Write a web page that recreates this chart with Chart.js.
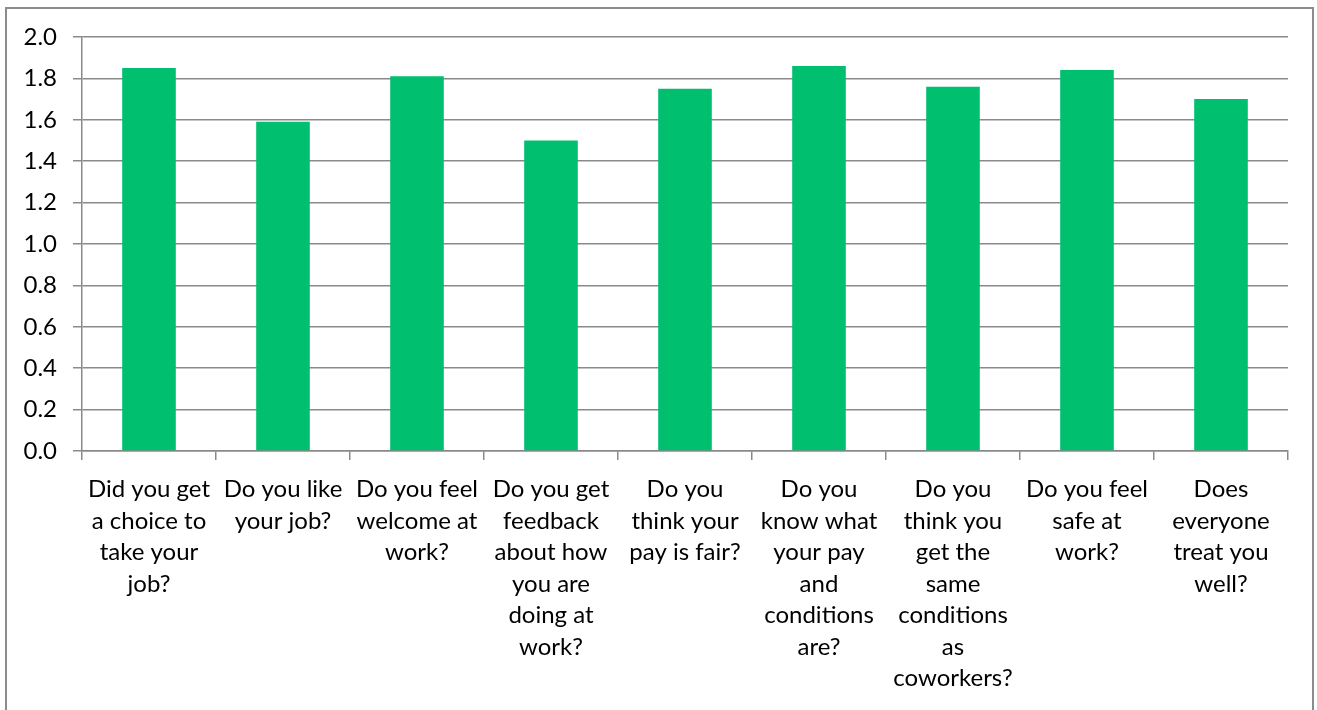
<!DOCTYPE html>
<html>
<head>
<meta charset="utf-8">
<script src="https://cdn.jsdelivr.net/npm/chart.js@4/dist/chart.umd.min.js"></script>
<style>
  html, body { margin: 0; padding: 0; background: #fff; overflow: hidden; }
  #wrap { position: relative; width: 1317px; height: 710px; }
  #frame {
    position: absolute; left: 5px; top: 7px; width: 1309px; height: 720px;
    border: 2px solid #8c8c8c; pointer-events: none; box-sizing: border-box;
  }
</style>
</head>
<body>
<div id="wrap">
  <canvas id="chart" width="1317" height="710"></canvas>
  <div id="frame"></div>
</div>
<script>
// Survey questions (wrapped into lines) and their average scores
const questions = [
  ["Did you get", "a choice to", "take your", "job?"],
  ["Do you like", "your job?"],
  ["Do you feel", "welcome at", "work?"],
  ["Do you get", "feedback", "about how", "you are", "doing at", "work?"],
  ["Do you", "think your", "pay is fair?"],
  ["Do you", "know what", "your pay", "and", "conditions", "are?"],
  ["Do you", "think you", "get the", "same", "conditions", "as", "coworkers?"],
  ["Do you feel", "safe at", "work?"],
  ["Does", "everyone", "treat you", "well?"]
];
const scores = [1.85, 1.59, 1.81, 1.50, 1.75, 1.86, 1.76, 1.84, 1.70];

const yMin = 0;
const yMax = 2.0;
const yStep = 0.2;

const axisGray = '#8a8a8a';
const fontFamily = 'Lato, "Open Sans", sans-serif';

new Chart(document.getElementById('chart'), {
  type: 'bar',
  data: {
    labels: questions,
    datasets: [{
      data: scores,
      backgroundColor: '#00BF6F',
      borderWidth: 0,
      barPercentage: 0.4,
      categoryPercentage: 1.0
    }]
  },
  options: {
    responsive: false,
    animation: false,
    layout: { padding: { top: 37, right: 29, left: 0, bottom: 0 } },
    plugins: { legend: { display: false }, tooltip: { enabled: false } },
    scales: {
      x: {
        grid: {
          offset: true,
          drawOnChartArea: false,
          drawTicks: true,
          tickLength: 9,
          color: axisGray,
          lineWidth: 1.5
        },
        border: { color: axisGray, width: 1.5 },
        ticks: {
          color: '#000',
          font: { family: fontFamily, size: 24, lineHeight: 1.31 },
          padding: 14,
          maxRotation: 0,
          autoSkip: false
        },
        afterFit(scale) { scale.height = 710 - 451; }
      },
      y: {
        min: yMin,
        max: yMax,
        grid: {
          color: axisGray,
          lineWidth: 1.5,
          tickLength: 9
        },
        border: { color: axisGray, width: 1.5 },
        ticks: {
          stepSize: yStep,
          color: '#000',
          font: { family: fontFamily, size: 24 },
          padding: 16,
          callback: (v) => Number(v).toFixed(1)
        },
        afterFit(scale) { scale.width = 82; }
      }
    }
  }
});
</script>
</body>
</html>
